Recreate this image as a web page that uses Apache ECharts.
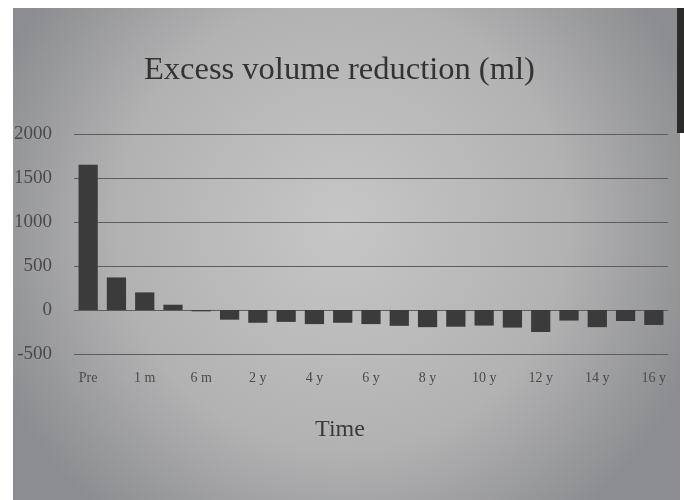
<!DOCTYPE html>
<html>
<head>
<meta charset="utf-8">
<script src="https://cdn.jsdelivr.net/npm/echarts@6/dist/echarts.min.js"></script>
<style>
  html, body { margin: 0; padding: 0; background: #fff; }
  #chart { width: 684px; height: 500px; }
</style>
</head>
<body>
<div id="chart"></div>
<script>
// categories (only every other one is labelled on the slide)
const times = ['Pre', '1 w', '1 m', '3 m', '6 m', '1 y', '2 y', '3 y', '4 y', '5 y', '6 y',
  '7 y', '8 y', '9 y', '10 y', '11 y', '12 y', '13 y', '14 y', '15 y', '16 y']
// excess volume reduction, ml
const volume = [1650, 370, 200, 60, -15, -110, -145, -135, -160, -145, -160,
  -180, -195, -190, -177, -200, -250, -120, -195, -125, -170]
const yTicks = [-500, 0, 500, 1000, 1500, 2000]

const chart = echarts.init(document.getElementById('chart'))
const serif = '"Liberation Serif", "DejaVu Serif", serif'

chart.setOption({
  backgroundColor: {
    type: 'radial', x: 0.5, y: 0.45, r: 0.75,
    colorStops: [
      { offset: 0, color: '#c6c6c6' },
      { offset: 0.6, color: '#b2b2b3' },
      { offset: 1, color: '#8c8d90' }
    ]
  },
  title: {
    text: 'Excess volume reduction (ml)',
    left: 139,
    top: 49,
    textStyle: { fontFamily: serif, fontWeight: 'normal', fontSize: 32.5, color: '#333' }
  },
  grid: { left: 74, right: 16, top: 134, bottom: 146 },
  xAxis: {
    type: 'category',
    data: times,
    name: 'Time',
    nameLocation: 'middle',
    nameGap: 64,
    nameTextStyle: { fontFamily: serif, fontSize: 24, color: '#3a3a3a', padding: [0, 62, 0, 0] },
    axisLine: { show: false },
    axisTick: { show: false },
    axisLabel: { interval: 1, margin: 17, fontFamily: serif, fontSize: 14, color: '#4a4a4a' }
  },
  yAxis: {
    type: 'value',
    min: yTicks[0],
    max: yTicks[yTicks.length - 1],
    interval: 500,
    axisLabel: { margin: 22, fontFamily: serif, fontSize: 19, color: '#4a4a4a', formatter: v => String(v) },
    splitLine: { lineStyle: { color: '#5c5c5c', width: 1 } }
  },
  series: [{
    type: 'bar',
    data: volume,
    barWidth: '68%',
    itemStyle: { color: '#3b3b3c' },
    silent: true
  }],
  graphic: [
    { type: 'rect', z: 100, shape: { x: 0, y: 0, width: 13, height: 500 }, style: { fill: '#ffffff' } },
    { type: 'rect', z: 100, shape: { x: 0, y: 0, width: 684, height: 8 }, style: { fill: '#ffffff' } },
    { type: 'rect', z: 100, shape: { x: 677, y: 8, width: 7, height: 125 }, style: { fill: '#2a2a2a' } },
    { type: 'rect', z: 100, shape: { x: 680, y: 133, width: 4, height: 367 }, style: { fill: '#ffffff' } }
  ]
})
</script>
</body>
</html>
